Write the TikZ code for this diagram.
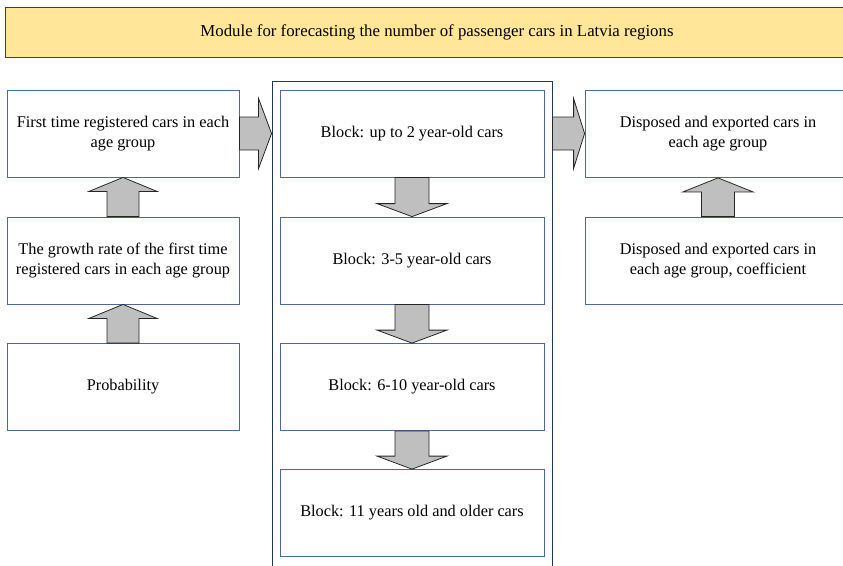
\documentclass[tikz,border=0pt]{standalone}
\usepackage{fontspec}
\setmainfont{Liberation Serif}
\usetikzlibrary{calc}

\definecolor{boxline}{HTML}{4A69A0}
\definecolor{frameline}{HTML}{1F3864}
\definecolor{titlefill}{HTML}{FFE699}
\definecolor{titleline}{HTML}{3F3F3F}
\definecolor{arrowfill}{HTML}{BFBFBF}
\definecolor{arrowline}{HTML}{262626}

\tikzset{
  blockbox/.style={draw=boxline, line width=0.8pt, fill=white, inner sep=0pt,
    minimum height=87pt, align=center, font=\fontsize{16.3}{20}\selectfont},
  leftbox/.style={blockbox, minimum width=232pt},
  midbox/.style={blockbox, minimum width=264pt},
  rightbox/.style={blockbox, minimum width=266pt},
  titlebox/.style={draw=titleline, line width=0.8pt, fill=titlefill, inner sep=0pt,
    minimum width=864pt, minimum height=50pt, font=\fontsize{16.8}{20}\selectfont},
  framebox/.style={draw=frameline, line width=0.9pt, inner sep=0pt,
    minimum width=280pt, minimum height=500pt},
  fat/.style={draw=arrowline, fill=arrowfill, line width=0.8pt, line join=miter}
}

\begin{document}
\begin{tikzpicture}[x=1pt,y=-1pt]
\useasboundingbox (0,0) rectangle (843,565);
\clip (0,0) rectangle (843,565);

% heading
\node[titlebox] (title) at (437,32)
  {Module for forecasting the number of passenger cars in Latvia regions};

% group of age blocks
\node[framebox] (frame) at (412,331) {};

% left column
\node[leftbox] (lt1) at (123,133.5) {First time registered cars in each\\age group};
\node[leftbox] (lt2) at (123,260.5) {The growth rate of the first time\\registered cars in each age group};
\node[leftbox] (lt3) at (123,387) {Probability};

% middle column
\node[midbox] (m1) at (412,133.5) {Block: up to 2 year-old cars};
\node[midbox] (m2) at (412,260.5) {Block: 3-5 year-old cars};
\node[midbox] (m3) at (412,387) {Block: 6-10 year-old cars};
\node[midbox] (m4) at (412,513) {Block: 11 years old and older cars};

% right column
\node[rightbox] (r1) at (718,134) {Disposed and exported cars in\\each age group};
\node[rightbox] (r2) at (718,260.5) {Disposed and exported cars in\\each age group, coefficient};

% upward block arrows
\draw[fat] let \p1=(lt1.south), \p2=(lt2.north) in
  (\x1-16pt,\y2) -- (\x1-16pt,\y1-14pt) -- (\x1-34pt,\y1-14pt) -- (\x1,\y1)
  -- (\x1+34pt,\y1-14pt) -- (\x1+16pt,\y1-14pt) -- (\x1+16pt,\y2) -- cycle;
\draw[fat] let \p1=(lt2.south), \p2=(lt3.north) in
  (\x1-16pt,\y2) -- (\x1-16pt,\y1-14pt) -- (\x1-34pt,\y1-14pt) -- (\x1,\y1)
  -- (\x1+34pt,\y1-14pt) -- (\x1+16pt,\y1-14pt) -- (\x1+16pt,\y2) -- cycle;
\draw[fat] let \p1=(r1.south), \p2=(r2.north) in
  (\x1-16.5pt,\y2) -- (\x1-16.5pt,\y1-14pt) -- (\x1-35pt,\y1-14pt) -- (\x1,\y1)
  -- (\x1+35pt,\y1-14pt) -- (\x1+16.5pt,\y1-14pt) -- (\x1+16.5pt,\y2) -- cycle;

% downward block arrows
\foreach \a/\b in {m1/m2, m2/m3, m3/m4}{
  \draw[fat] let \p1=(\a.south), \p2=(\b.north) in
    (\x1-17pt,\y1) -- (\x1-17pt,\y2+13pt) -- (\x1-35pt,\y2+13pt) -- (\x2,\y2)
    -- (\x1+35pt,\y2+13pt) -- (\x1+17pt,\y2+13pt) -- (\x1+17pt,\y1) -- cycle;
}

% rightward block arrows
\draw[fat] let \p1=(lt1.east), \p2=(frame.west) in
  (\x1,\y1+16.5pt) -- (\x2-13pt,\y1+16.5pt) -- (\x2-13pt,\y1+35pt) -- (\x2,\y1)
  -- (\x2-13pt,\y1-35pt) -- (\x2-13pt,\y1-16.5pt) -- (\x1,\y1-16.5pt) -- cycle;
\draw[fat] let \p1=(frame.east), \p2=(r1.west), \p3=(m1.east) in
  (\x1,\y3+16.5pt) -- (\x2-11pt,\y3+16.5pt) -- (\x2-11pt,\y3+35pt) -- (\x2,\y3)
  -- (\x2-11pt,\y3-35pt) -- (\x2-11pt,\y3-16.5pt) -- (\x1,\y3-16.5pt) -- cycle;
\end{tikzpicture}
\end{document}
